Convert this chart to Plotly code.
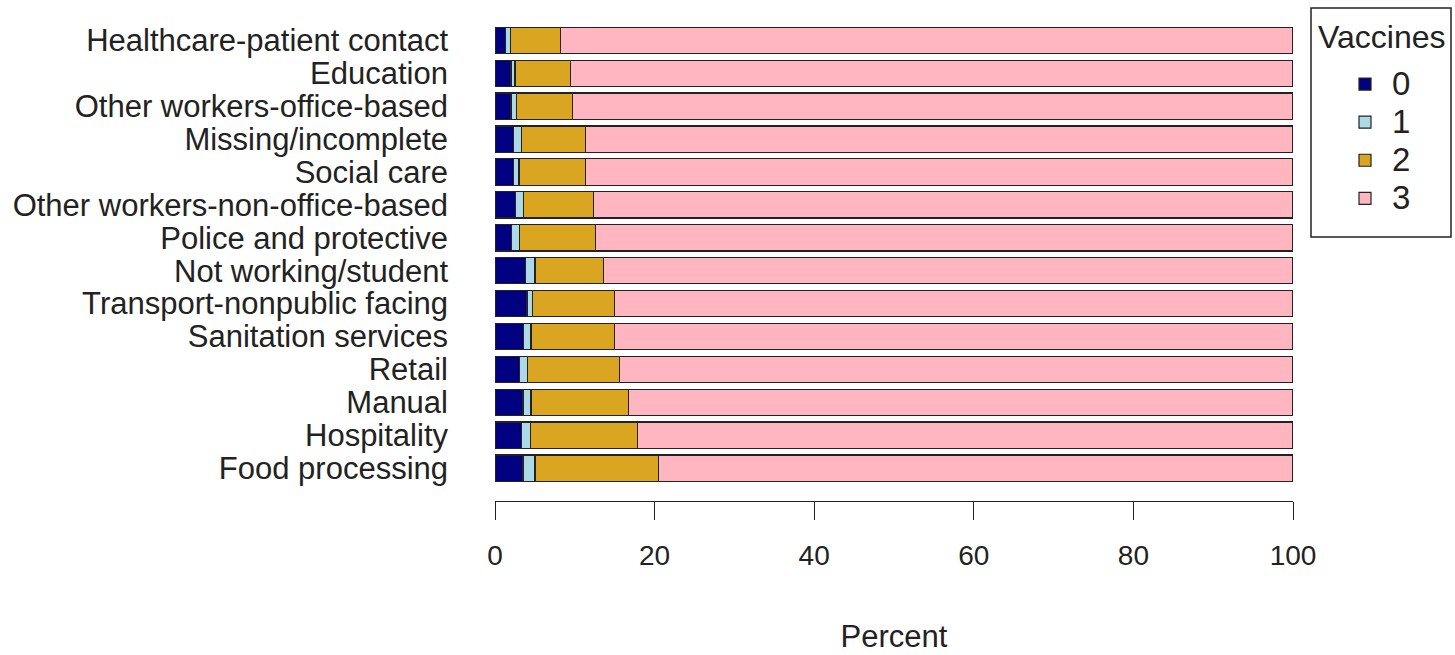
import plotly.graph_objects as go

categories = [
    "Healthcare-patient contact", "Education", "Other workers-office-based",
    "Missing/incomplete", "Social care", "Other workers-non-office-based",
    "Police and protective", "Not working/student", "Transport-nonpublic facing",
    "Sanitation services", "Retail", "Manual", "Hospitality", "Food processing",
]
dose0 = [1.3, 2.0, 2.0, 2.3, 2.3, 2.6, 2.1, 3.8, 4.0, 3.6, 3.1, 3.5, 3.3, 3.5]
dose1 = [0.6, 0.5, 0.7, 1.0, 0.7, 1.0, 1.0, 1.2, 0.7, 0.9, 1.0, 1.0, 1.1, 1.5]
dose2 = [6.3, 7.0, 7.0, 8.0, 8.3, 8.7, 9.5, 8.6, 10.3, 10.5, 11.5, 12.2, 13.5, 15.5]
dose3 = [91.8, 90.5, 90.3, 88.7, 88.7, 87.7, 87.4, 86.4, 85.0, 85.0, 84.4, 83.3, 82.1, 79.5]
xticks = [0, 20, 40, 60, 80, 100]
series_names = ["0", "1", "2", "3"]
series_colors = ["#000080", "#ADD8E6", "#DAA520", "#FFB6C1"]
legend_title = "Vaccines"

fig = go.Figure()
for name, vals, col in zip(series_names, [dose0, dose1, dose2, dose3], series_colors):
    fig.add_trace(go.Bar(
        y=categories, x=vals, name='<span style="font-size:33px">%s</span>' % name,
        orientation="h", width=0.8,
        marker=dict(color=col, line=dict(color="#222222", width=1.2)),
    ))

font_family = "Liberation Sans, Arial, sans-serif"
# plot area in page px
L, R, T, B = 495, 1293, 24, 501
def px(x):
    return (x - L) / (R - L)
def py(y):
    return (B - y) / (B - T)

fig.update_layout(
    barmode="stack",
    width=1455, height=655,
    margin=dict(l=L, r=1455 - R, t=T, b=655 - B, autoexpand=False),
    paper_bgcolor="white", plot_bgcolor="white",
    font=dict(family=font_family, size=31, color="#222222"),
    showlegend=True,
    legend=dict(
        xref="container", yref="container",
        x=1338/1455, y=1 - 60/655, xanchor="left", yanchor="top",
        borderwidth=0, bgcolor="rgba(0,0,0,0)",
        font=dict(size=27), traceorder="normal",
        itemwidth=44, tracegroupgap=0,
    ),
    shapes=[dict(type="rect", xref="paper", yref="paper",
                 x0=px(1311), x1=px(1451), y0=py(237), y1=py(8),
                 line=dict(color="#222222", width=1.5), fillcolor="rgba(0,0,0,0)")],
    annotations=[dict(text=legend_title, xref="paper", yref="paper",
                      x=px(1381), y=py(37), xanchor="center", yanchor="middle",
                      showarrow=False, font=dict(size=32))],
    xaxis=dict(
        range=[0, 100], tickmode="array", tickvals=xticks,
        showgrid=False, zeroline=False, showline=True, linecolor="#222222",
        linewidth=1.2, ticks="outside", ticklen=18, tickcolor="#222222",
        tickwidth=1.2, tickfont=dict(size=28), ticklabelstandoff=11,
        title=dict(text="Percent", font=dict(size=31), standoff=55),
        automargin=False,
    ),
    yaxis=dict(
        type="category", range=[14.0, -0.5], showgrid=False, zeroline=False,
        showline=False, ticks="", ticklabelstandoff=46,
        tickmode="array", tickvals=categories, ticktext=categories,
        tickfont=dict(size=31), automargin=False,
    ),
)
fig.write_html(
    "out.html",
    config={"displayModeBar": False},
    post_script="document.body.style.margin='0';document.body.style.overflow='hidden';",
)
